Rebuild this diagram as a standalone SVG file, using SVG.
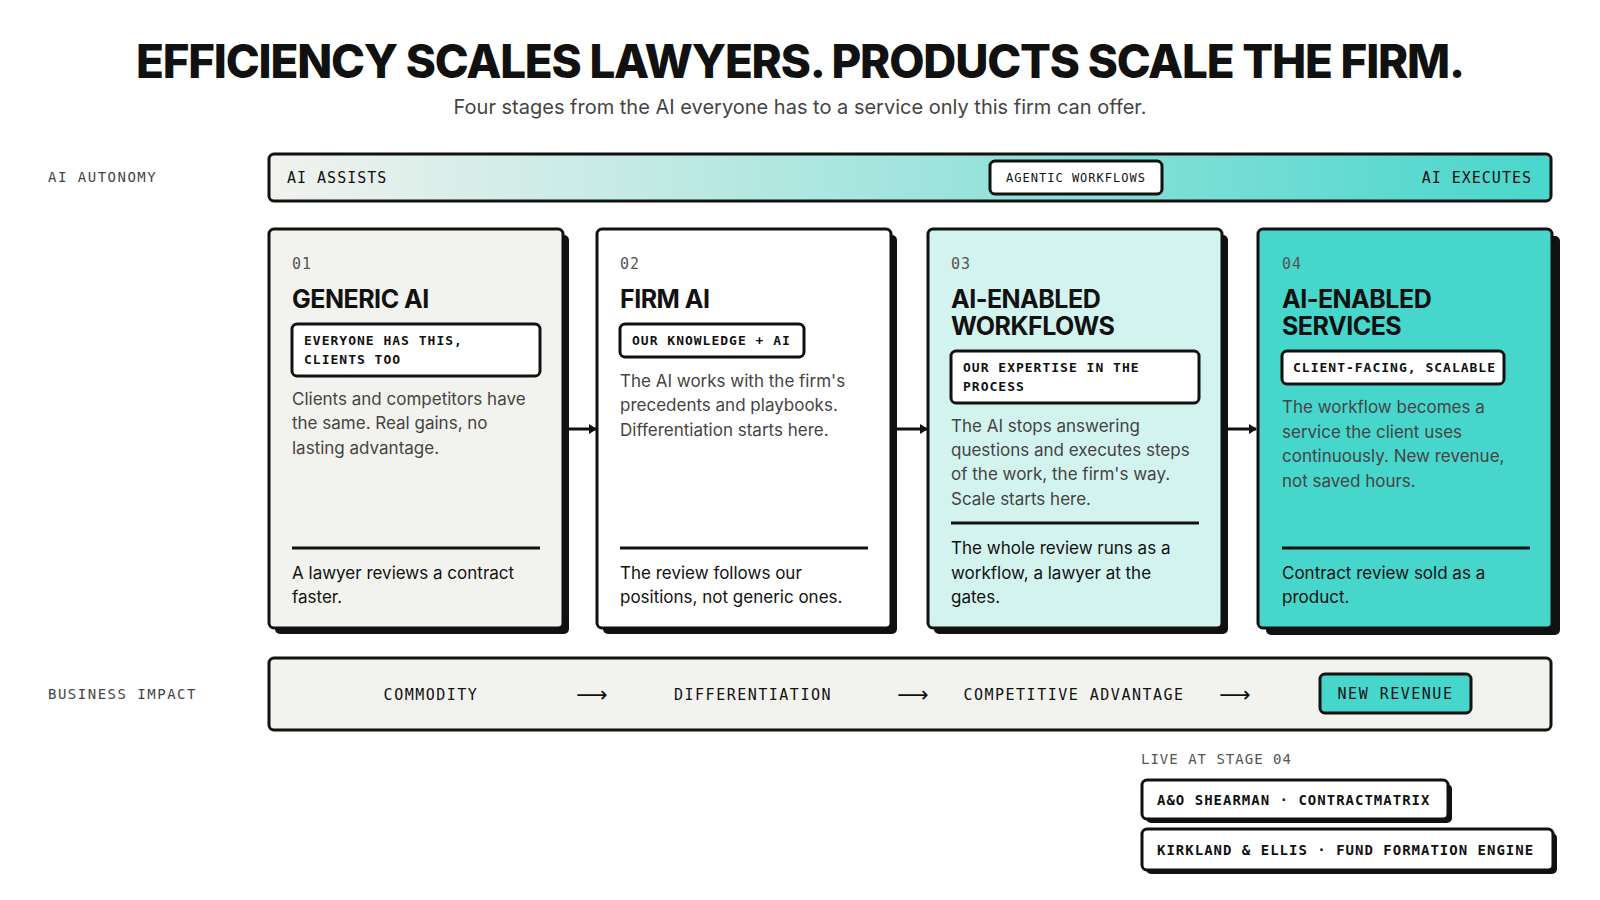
<svg xmlns="http://www.w3.org/2000/svg" width="1600" height="900" viewBox="0 0 1600 900">
<defs>
<linearGradient id="ag" x1="0" x2="1" y1="0" y2="0"><stop offset="0" stop-color="#f2f2ee"/><stop offset="0.55" stop-color="#98e3dc"/><stop offset="1" stop-color="#48d6cc"/></linearGradient>
<marker id="ah" markerWidth="8" markerHeight="10" refX="7" refY="5" orient="auto" markerUnits="userSpaceOnUse"><path d="M0,0 L8,5 L0,10 Z" fill="#111"/></marker>
</defs>
<style>
.mono{font-family:"DejaVu Sans Mono","Liberation Mono",monospace;letter-spacing:1px}
.sans{font-family:Inter,"Liberation Sans",sans-serif}
.box{stroke:#111;stroke-width:3}
.sh{fill:#111}
.num{font-size:15px;fill:#555}
.ttl{font-size:25px;font-weight:700;fill:#111;letter-spacing:-0.5px}
.tag{font-size:13px;fill:#111;font-weight:bold}
.body{font-size:17px;fill:#444}
.bot{font-size:17px;fill:#111}
.lbl{font-size:14px;fill:#444;letter-spacing:1.5px}
.imp{font-size:15px;fill:#111;letter-spacing:1.5px}
.arr{font-family:"DejaVu Sans",sans-serif;font-size:22px;fill:#111}
</style>
<rect width="1600" height="900" fill="#fff"/>
<text x="800" y="78" text-anchor="middle" class="sans" font-size="46" font-weight="800" letter-spacing="-1.2" textLength="1328" lengthAdjust="spacingAndGlyphs" fill="#111">EFFICIENCY SCALES LAWYERS. PRODUCTS SCALE THE FIRM.</text>
<text x="800" y="114" text-anchor="middle" class="sans" font-size="20" fill="#444">Four stages from the AI everyone has to a service only this firm can offer.</text>

<g id="autonomy">
<text x="48" y="182" class="mono lbl">AI AUTONOMY</text>
<rect x="269" y="154" width="1282" height="47" rx="5" fill="url(#ag)" class="box"/>
<text x="287" y="183" class="mono" font-size="15" fill="#111" letter-spacing="1.5">AI ASSISTS</text>
<rect x="990" y="161" width="172" height="33" rx="5" fill="#fff" class="box"/>
<text x="1076" y="182" text-anchor="middle" class="mono" font-size="12" fill="#111">AGENTIC WORKFLOWS</text>
<text x="1532" y="183" text-anchor="end" class="mono" font-size="15" fill="#111" letter-spacing="1.5">AI EXECUTES</text>
</g>

<g id="connectors" stroke="#111" stroke-width="3">
<line x1="569" y1="429" x2="596" y2="429" marker-end="url(#ah)"/>
<line x1="897" y1="429" x2="927" y2="429" marker-end="url(#ah)"/>
<line x1="1228" y1="429" x2="1256" y2="429" marker-end="url(#ah)"/>
</g>

<g id="card1">
<rect x="275" y="235" width="294" height="399" rx="5" class="sh"/>
<rect x="269" y="229" width="294" height="399" rx="5" fill="#f2f2ee" class="box"/>
<text x="292" y="269" class="mono num">01</text>
<text x="292" y="308" class="sans ttl">GENERIC AI</text>
<rect x="292" y="324" width="248" height="52" rx="5" fill="#fff" class="box"/>
<text class="mono tag"><tspan x="304" y="345">EVERYONE HAS THIS,</tspan><tspan x="304" y="364">CLIENTS TOO</tspan></text>
<text class="sans body"><tspan x="292" y="405">Clients and competitors have</tspan><tspan x="292" y="429">the same. Real gains, no</tspan><tspan x="292" y="454">lasting advantage.</tspan></text>
<line x1="292" y1="548" x2="540" y2="548" stroke="#111" stroke-width="3"/>
<text class="sans bot"><tspan x="292" y="579">A lawyer reviews a contract</tspan><tspan x="292" y="603">faster.</tspan></text>
</g>

<g id="card2">
<rect x="603" y="235" width="294" height="399" rx="5" class="sh"/>
<rect x="597" y="229" width="294" height="399" rx="5" fill="#fff" class="box"/>
<text x="620" y="269" class="mono num">02</text>
<text x="620" y="308" class="sans ttl">FIRM AI</text>
<rect x="620" y="324" width="184" height="33" rx="5" fill="#fff" class="box"/>
<text x="632" y="345" class="mono tag">OUR KNOWLEDGE + AI</text>
<text class="sans body"><tspan x="620" y="387">The AI works with the firm's</tspan><tspan x="620" y="411">precedents and playbooks.</tspan><tspan x="620" y="436">Differentiation starts here.</tspan></text>
<line x1="620" y1="548" x2="868" y2="548" stroke="#111" stroke-width="3"/>
<text class="sans bot"><tspan x="620" y="579">The review follows our</tspan><tspan x="620" y="603">positions, not generic ones.</tspan></text>
</g>

<g id="card3">
<rect x="934" y="235" width="294" height="399" rx="5" class="sh"/>
<rect x="928" y="229" width="294" height="399" rx="5" fill="#d3f3ef" class="box"/>
<text x="951" y="269" class="mono num">03</text>
<text class="sans ttl"><tspan x="951" y="308">AI-ENABLED</tspan><tspan x="951" y="335">WORKFLOWS</tspan></text>
<rect x="951" y="351" width="248" height="52" rx="5" fill="#fff" class="box"/>
<text class="mono tag"><tspan x="963" y="372">OUR EXPERTISE IN THE</tspan><tspan x="963" y="391">PROCESS</tspan></text>
<text class="sans body"><tspan x="951" y="432">The AI stops answering</tspan><tspan x="951" y="456">questions and executes steps</tspan><tspan x="951" y="480">of the work, the firm's way.</tspan><tspan x="951" y="505">Scale starts here.</tspan></text>
<line x1="951" y1="523" x2="1199" y2="523" stroke="#111" stroke-width="3"/>
<text class="sans bot"><tspan x="951" y="554">The whole review runs as a</tspan><tspan x="951" y="579">workflow, a lawyer at the</tspan><tspan x="951" y="603">gates.</tspan></text>
</g>

<g id="card4">
<rect x="1266" y="236" width="294" height="399" rx="5" class="sh"/>
<rect x="1258" y="229" width="294" height="399" rx="5" fill="#47d6cc" class="box"/>
<text x="1282" y="269" class="mono num">04</text>
<text class="sans ttl"><tspan x="1282" y="308">AI-ENABLED</tspan><tspan x="1282" y="335">SERVICES</tspan></text>
<rect x="1282" y="351" width="222" height="33" rx="5" fill="#fff" class="box"/>
<text x="1293" y="372" class="mono tag">CLIENT-FACING, SCALABLE</text>
<text class="sans body" fill="#333"><tspan x="1282" y="413">The workflow becomes a</tspan><tspan x="1282" y="438">service the client uses</tspan><tspan x="1282" y="462">continuously. New revenue,</tspan><tspan x="1282" y="487">not saved hours.</tspan></text>
<line x1="1282" y1="548" x2="1530" y2="548" stroke="#111" stroke-width="3"/>
<text class="sans bot"><tspan x="1282" y="579">Contract review sold as a</tspan><tspan x="1282" y="603">product.</tspan></text>
</g>

<g id="impact">
<text x="48" y="699" class="mono lbl">BUSINESS IMPACT</text>
<rect x="269" y="658" width="1282" height="72" rx="5" fill="#f2f2ee" class="box"/>
<text x="431" y="700" text-anchor="middle" class="mono imp">COMMODITY</text>
<text x="592" y="702" text-anchor="middle" class="arr">⟶</text>
<text x="753" y="700" text-anchor="middle" class="mono imp">DIFFERENTIATION</text>
<text x="913" y="702" text-anchor="middle" class="arr">⟶</text>
<text x="1074" y="700" text-anchor="middle" class="mono imp">COMPETITIVE ADVANTAGE</text>
<text x="1235" y="702" text-anchor="middle" class="arr">⟶</text>
<rect x="1320" y="674" width="151" height="39" rx="5" fill="#47d6cc" class="box"/>
<text x="1395.5" y="699" text-anchor="middle" class="mono imp">NEW REVENUE</text>
</g>

<g id="live">
<text x="1141" y="764" class="mono" font-size="14" fill="#555" letter-spacing="2.5">LIVE AT STAGE 04</text>
<rect x="1146" y="784" width="306" height="39" rx="5" class="sh"/>
<rect x="1142" y="780" width="306" height="39" rx="5" fill="#fff" class="box"/>
<text x="1157" y="805" class="mono" font-size="14" fill="#111" font-weight="bold">A&amp;O SHEARMAN · CONTRACTMATRIX</text>
<rect x="1146" y="833" width="411" height="41" rx="5" class="sh"/>
<rect x="1142" y="829" width="411" height="41" rx="5" fill="#fff" class="box"/>
<text x="1157" y="855" class="mono" font-size="14" fill="#111" font-weight="bold">KIRKLAND &amp; ELLIS · FUND FORMATION ENGINE</text>
</g>
</svg>
